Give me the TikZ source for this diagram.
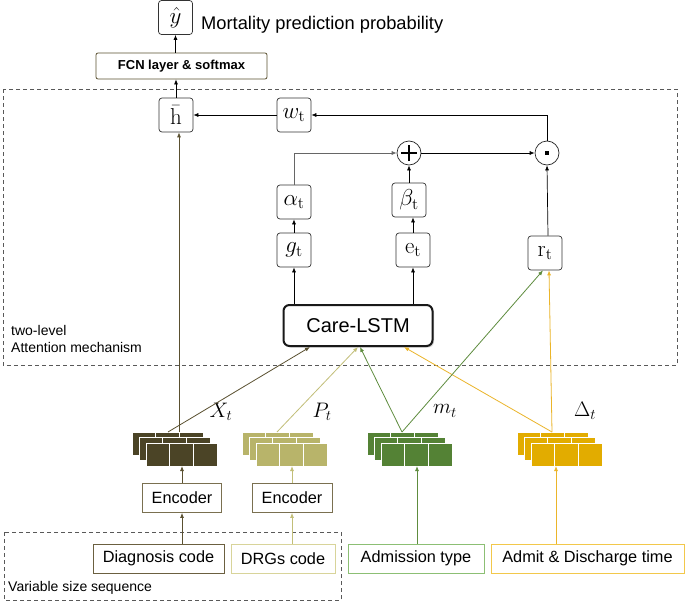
\documentclass[tikz,border=0pt]{standalone}
\usepackage{fix-cm}
\usepackage[no-math]{fontspec}
\setmainfont{Liberation Sans}
\usetikzlibrary{arrows.meta,shadows}
\definecolor{cX}{HTML}{4B4426}
\definecolor{cXl}{HTML}{5A5030}
\definecolor{cP}{HTML}{B8B46A}
\definecolor{cPl}{HTML}{C2BE78}
\definecolor{cM}{HTML}{548235}
\definecolor{cMl}{HTML}{5E8C3E}
\definecolor{cD}{HTML}{E2AC00}
\definecolor{cDl}{HTML}{EBB52A}
\definecolor{bEnc}{HTML}{7A7050}
\definecolor{bDiag}{HTML}{6B6040}
\definecolor{bDrg}{HTML}{D8D49A}
\definecolor{bAdm}{HTML}{8CBF74}
\definecolor{bAdmit}{HTML}{F2C84B}
\newcommand{\blockstack}[2]{%
  \foreach \dx/\dy in {0/432,7/437.5,14/443}{%
    \foreach \i in {0,1,2}{%
      \filldraw[fill=#2,draw=white,line width=0.9pt] ({#1+\dx+\i*23.67},\dy) rectangle ++(23.67,23);
    }%
  }%
}
\begin{document}
\begin{tikzpicture}[x=1pt,y=-1pt,
  mbox/.style={draw=black!80,rounded corners=3pt,minimum width=34pt,minimum height=34pt,inner sep=0pt,line width=0.7pt,font=\fontsize{23}{23}\selectfont},
  arr/.style={-{Latex[length=5pt,width=4pt]},line width=0.7pt},
  carr/.style={-{Latex[length=5pt,width=4pt]},line width=0.8pt},
  circ/.style={circle,draw=black!85,line width=0.7pt,minimum size=24pt,inner sep=0pt},
  tbox/.style={draw,minimum height=29pt,inner sep=0pt,line width=0.8pt,font=\fontsize{16.3}{16.3}\selectfont},
  lbl/.style={font=\fontsize{21}{21}\selectfont},
  dbox/.style={dashed,draw=black!65,line width=0.8pt,dash pattern=on 4pt off 3pt}
]
\useasboundingbox (0,0) rectangle (685,602);
\fill[white] (0,0) rectangle (685,602);

% dashed regions
\draw[dbox] (3,89) rectangle (677,365);
\draw[dbox] (4,532) rectangle (341,600);

% top
\node[mbox] (yhat) at (175.5,17.5) {$\hat{y}$};
\node[anchor=west,font=\fontsize{18.3}{18.3}\selectfont,inner sep=0pt] (mort) at (201,25) {Mortality prediction probability};
\node[draw=cXl,rounded corners=2pt,minimum width=171pt,minimum height=26pt,inner sep=0pt,line width=0.8pt,font=\bfseries\fontsize{13}{13}\selectfont] (fcn) at (181.5,66) {FCN layer \& softmax};

% attention level
\node[mbox] (hbar) at (176,115) {$\bar{\mathrm{h}}$};
\node[mbox] (wt) at (294,115) {$w_{\mathrm{t}}$};
\node[mbox] (alpha) at (294,202) {$\alpha_{\mathrm{t}}$};
\node[mbox] (g) at (294,250) {$g_{\mathrm{t}}$};
\node[mbox] (beta) at (409,200) {$\beta_{\mathrm{t}}$};
\node[mbox] (e) at (413,250) {$\mathrm{e}_{\mathrm{t}}$};
\node[mbox] (r) at (545,253) {$\mathrm{r}_{\mathrm{t}}$};
\node[circ] (plus) at (409,153) {};
\draw[line width=2.4pt] ([xshift=-8pt]plus.center) -- ([xshift=8pt]plus.center);
\draw[line width=2.4pt] ([yshift=-8pt]plus.center) -- ([yshift=8pt]plus.center);
\node[circ] (odot) at (547,153) {};
\fill[black] ([xshift=-1.6pt,yshift=-1.6pt]odot.center) rectangle ([xshift=1.6pt,yshift=1.6pt]odot.center);

\node[draw=black!90,line width=2pt,rounded corners=6pt,minimum width=149pt,minimum height=41pt,inner sep=0pt,
  drop shadow={shadow xshift=1.5pt,shadow yshift=-1.5pt,opacity=0.35},fill=white,
  font=\fontsize{20}{20}\selectfont] (care) at (358,325.5) {Care-LSTM};

\node[anchor=north west,align=left,font=\fontsize{14}{17}\selectfont,inner sep=0pt] (lvl) at (11,325) {two-level\\Attention mechanism};

% black arrows
\draw[arr] (fcn.north -| yhat) -- (yhat.south);
\draw[arr] (hbar.north) -- (fcn.south -| hbar);
\draw[arr] (wt) -- (hbar);
\draw[arr] (odot.north) |- (wt.east);
\draw[arr,draw=black!60] (alpha.north) |- (plus.west);
\draw[arr] (beta) -- (plus);
\draw[arr] (plus) -- (odot);
\draw[arr] ([xshift=3pt]r.north) -- (odot.south);
\draw[arr] (g) -- (alpha);
\draw[arr] (e.north) -- (e.north |- beta.south);
\draw[arr] (care.north -| g) -- (g.south);
\draw[arr] (care.north -| e) -- (e.south);

% stacks
\blockstack{132}{cX}
\blockstack{242}{cP}
\blockstack{367}{cM}
\blockstack{517}{cD}
\coordinate (xs) at (168,432);
\coordinate (xv) at (179,432);
\coordinate (ps) at (277,432);
\coordinate (ms) at (402,432);
\coordinate (ds) at (552,432);
\coordinate (xb) at (182,466);
\coordinate (pb) at (292,466);
\coordinate (mb) at (417,466);
\coordinate (db) at (556,466);

\node[lbl] (xl) at (221,412) {$X_t$};
\node[lbl] (pl) at (322,412) {$P_t$};
\node[lbl] (ml) at (445,411) {$m_t$};
\node[lbl] (dl) at (585,411) {$\Delta_t$};

% colored connectors
\draw[carr,draw=cXl,{Latex[length=5pt,width=4pt]}-] ([xshift=3pt]hbar.south) -- (xv);
\draw[carr,draw=cXl] (xs) -- ([xshift=-48pt]care.south);
\draw[carr,draw=cPl] (ps) -- (care.south);
\draw[carr,draw=cMl] (ms) -- ([xshift=2pt]care.south);
\draw[carr,draw=cDl] (ds) -- ([xshift=46pt]care.south);
\draw[carr,draw=cMl] (ms) -- ([xshift=-2pt]r.south);
\draw[carr,draw=cDl] (ds) -- ([xshift=4pt]r.south);

% bottom boxes
\node[tbox,draw=bEnc,minimum width=79pt] (enc1) at (182,498) {Encoder};
\node[tbox,draw=bEnc,minimum width=80pt] (enc2) at (292,498) {Encoder};
\node[tbox,draw=bDiag,minimum width=131pt] (diag) at (158.5,558.5) {Diagnosis code};
\node[tbox,draw=bDrg,minimum width=104pt] (drg) at (283,558.5) {DRGs code};
\node[tbox,draw=bAdm,minimum width=136pt] (adm) at (416,558.5) {Admission type};
\node[tbox,draw=bAdmit,minimum width=193pt] (admit) at (587.5,558.5) {Admit \& Discharge time};
\node[anchor=west,font=\fontsize{14}{14}\selectfont,inner sep=0pt] (vss) at (8,588) {Variable size sequence};

\draw[carr,draw=cXl] (enc1.north) -- (xb);
\draw[carr,draw=cPl] (enc2.north) -- (pb);
\draw[carr,draw=cXl] (diag.north -| enc1) -- (enc1.south);
\draw[carr,draw=cPl] (drg.north -| enc2) -- (enc2.south);
\draw[carr,draw=cMl] (adm.north -| mb) -- (mb);
\draw[carr,draw=cDl] (admit.north -| db) -- (db);
\end{tikzpicture}
\end{document}
